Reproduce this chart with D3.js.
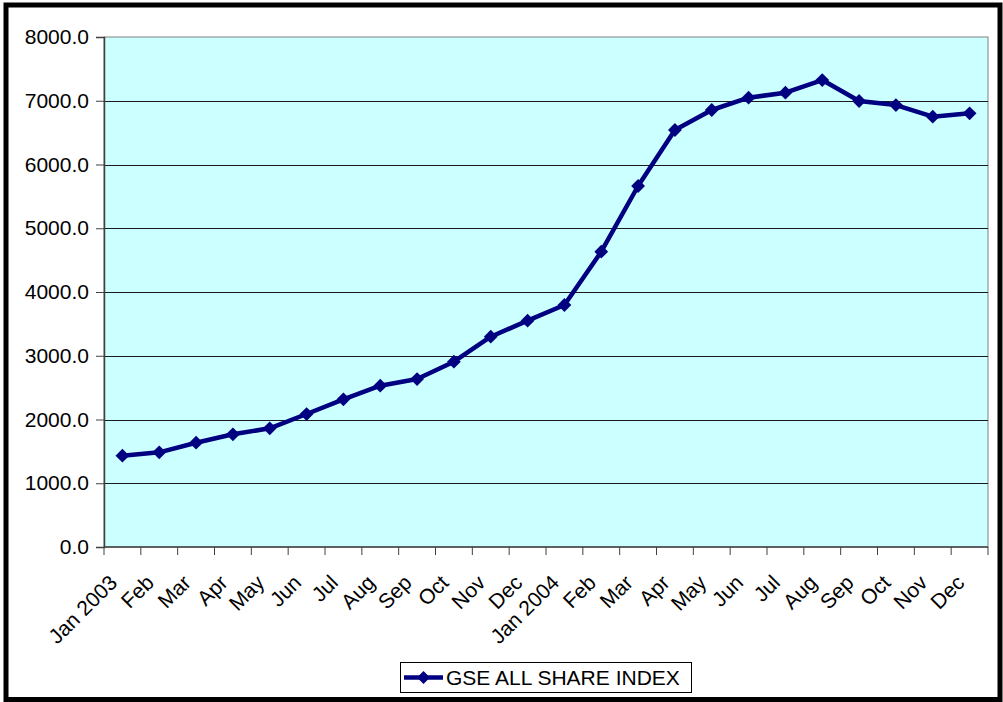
<!DOCTYPE html>
<html>
<head>
<meta charset="utf-8">
<script src="https://cdn.jsdelivr.net/npm/d3@7"></script>
<style>
  html, body { margin: 0; padding: 0; background: #fff; }
  svg { display: block; font-family: "Liberation Sans", Arial, sans-serif; }
</style>
</head>
<body>
<svg id="chart" width="1003" height="702"></svg>
<script>
// Monthly GSE All Share Index, Jan 2003 – Dec 2004
const months = ["Jan 2003", "Feb", "Mar", "Apr", "May", "Jun", "Jul", "Aug", "Sep", "Oct", "Nov", "Dec",
                "Jan 2004", "Feb", "Mar", "Apr", "May", "Jun", "Jul", "Aug", "Sep", "Oct", "Nov", "Dec"];
const indexValues = [1432, 1485, 1636, 1768, 1862, 2086, 2317, 2530, 2635, 2907, 3299, 3550,
                     3796, 4632, 5663, 6541, 6855, 7048, 7126, 7325, 6996, 6933, 6750, 6803];
const yTicks = [0, 1000, 2000, 3000, 4000, 5000, 6000, 7000, 8000];
const seriesName = "GSE ALL SHARE INDEX";

const svg = d3.select("#chart");
const plot = { left: 104, top: 37, right: 988, bottom: 547 };
const navy = "#000080";
const fontSize = 21;

// chart frame
svg.append("rect")
  .attr("x", 6).attr("y", 5).attr("width", 994).attr("height", 694.5)
  .attr("fill", "#fff").attr("stroke", "#000").attr("stroke-width", 5);

const x = d3.scaleBand()
  .domain(d3.range(months.length))
  .range([plot.left, plot.right])
  .padding(0);
const y = d3.scaleLinear().domain([0, 8000]).range([plot.bottom, plot.top]);

// plot area
svg.append("rect")
  .attr("x", plot.left).attr("y", plot.top)
  .attr("width", plot.right - plot.left).attr("height", plot.bottom - plot.top)
  .attr("fill", "#CCFFFF").attr("stroke", "#808080").attr("stroke-width", 1);

// horizontal gridlines
svg.append("g").selectAll("line")
  .data(yTicks.filter(d => d > 0 && d < 8000))
  .join("line")
  .attr("x1", plot.left).attr("x2", plot.right)
  .attr("y1", d => Math.round(y(d)) + 0.5).attr("y2", d => Math.round(y(d)) + 0.5)
  .attr("stroke", "#1a1a1a").attr("stroke-width", 1);

// y axis
const yAxis = svg.append("g")
  .attr("transform", `translate(${plot.left},0)`)
  .call(d3.axisLeft(y).tickValues(yTicks).tickFormat(d3.format(".1f")).tickSize(8).tickPadding(7));
yAxis.select(".domain").attr("stroke", "#404040").attr("stroke-width", 1.5);
yAxis.selectAll(".tick line").attr("stroke", "#404040");
yAxis.selectAll(".tick text")
  .attr("font-size", fontSize).attr("fill", "#000")
  .style("font-family", "'Liberation Sans', Arial, sans-serif");

// x axis: ticks on category boundaries
const bounds = d3.range(months.length + 1).map(i => plot.left + i * x.bandwidth());
const xAxisG = svg.append("g");
xAxisG.append("line")
  .attr("x1", plot.left).attr("x2", plot.right)
  .attr("y1", plot.bottom).attr("y2", plot.bottom)
  .attr("stroke", "#404040").attr("stroke-width", 1.5);
xAxisG.selectAll("line.tk")
  .data(bounds)
  .join("line").attr("class", "tk")
  .attr("x1", d => d).attr("x2", d => d)
  .attr("y1", plot.bottom).attr("y2", plot.bottom + 8)
  .attr("stroke", "#404040").attr("stroke-width", 1);

// rotated month labels
xAxisG.selectAll("text")
  .data(months)
  .join("text")
  .attr("transform", (d, i) => `translate(${x(i) + x.bandwidth() / 2 - 4},${plot.bottom + 37}) rotate(-45)`)
  .attr("text-anchor", "end")
  .attr("font-size", fontSize)
  .attr("fill", "#000")
  .text(d => d);

// index line
const cx = i => x(i) + x.bandwidth() / 2;
const line = d3.line().x((d, i) => cx(i)).y(d => y(d));
svg.append("path")
  .datum(indexValues)
  .attr("d", line)
  .attr("fill", "none")
  .attr("stroke", navy)
  .attr("stroke-width", 4.5)
  .attr("stroke-linejoin", "round");

svg.append("g").selectAll("path")
  .data(indexValues)
  .join("path")
  .attr("transform", (d, i) => `translate(${cx(i)},${y(d)}) rotate(45)`)
  .attr("d", d3.symbol().type(d3.symbolSquare).size(95))
  .attr("fill", navy);

// legend
const lg = svg.append("g");
lg.append("rect")
  .attr("x", 400.5).attr("y", 662.5).attr("width", 291).attr("height", 30)
  .attr("fill", "#fff").attr("stroke", "#000").attr("stroke-width", 1);
lg.append("line")
  .attr("x1", 404).attr("x2", 443).attr("y1", 677.5).attr("y2", 677.5)
  .attr("stroke", navy).attr("stroke-width", 4.5);
lg.append("path")
  .attr("transform", "translate(423.5,677.5) rotate(45)")
  .attr("d", d3.symbol().type(d3.symbolSquare).size(85))
  .attr("fill", navy);
lg.append("text")
  .attr("x", 446).attr("y", 685)
  .attr("font-size", fontSize).attr("fill", "#000")
  .text(seriesName);
</script>
</body>
</html>
